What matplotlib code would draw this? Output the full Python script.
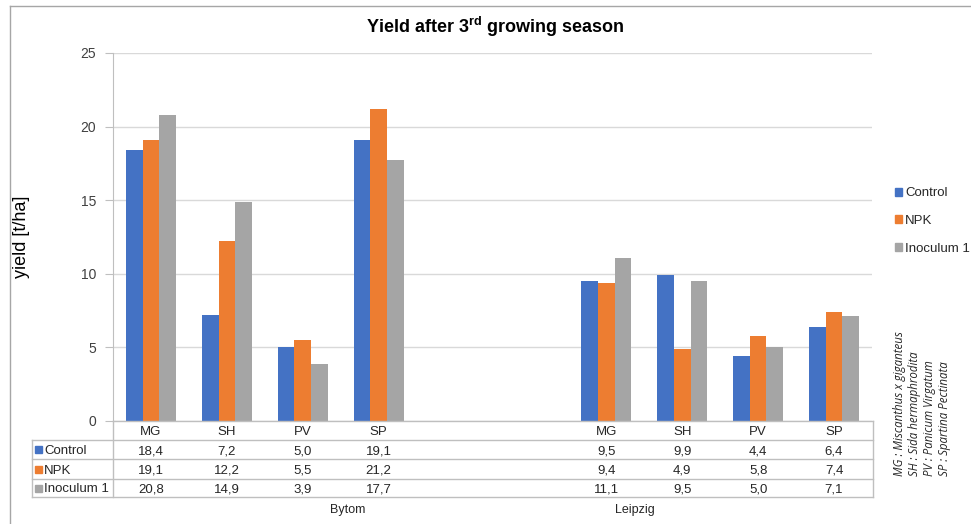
import matplotlib
matplotlib.use('Agg')
from matplotlib import pyplot as plt
from matplotlib.transforms import blended_transform_factory
from matplotlib.patches import Rectangle
from matplotlib.lines import Line2D

# data
species = ['MG', 'SH', 'PV', 'SP']
sites = ['Bytom', 'Leipzig']
series = ['Control', 'NPK', 'Inoculum 1']
colors = ['#4472C4', '#ED7D31', '#A5A5A5']

control_bytom = [18.4, 7.2, 5.0, 19.1]
npk_bytom = [19.1, 12.2, 5.5, 21.2]
inoc_bytom = [20.8, 14.9, 3.9, 17.7]
control_leipzig = [9.5, 9.9, 4.4, 6.4]
npk_leipzig = [9.4, 4.9, 5.8, 7.4]
inoc_leipzig = [11.1, 9.5, 5.0, 7.1]

yticks = [0, 5, 10, 15, 20, 25]

W, H = 971, 524
fig = plt.figure(figsize=(W / 100, H / 100), dpi=100)
plt.rcParams['font.family'] = ['Liberation Sans', 'DejaVu Sans']


def fy(py):
    return 1 - py / H


def fx(px):
    return px / W


ax = fig.add_axes([fx(113), fy(421), fx(872) - fx(113), fy(53) - fy(421)])

# 10 slots on the x axis, two empty between the sites
pos = {'Bytom': [0, 1, 2, 3], 'Leipzig': [6, 7, 8, 9]}
vals = {'Bytom': [control_bytom, npk_bytom, inoc_bytom],
        'Leipzig': [control_leipzig, npk_leipzig, inoc_leipzig]}

bw = 0.22
for site in sites:
    for i, (name, col) in enumerate(zip(series, colors)):
        xs = [p + (i - 1) * bw for p in pos[site]]
        ax.bar(xs, vals[site][i], width=bw, color=col, zorder=3)

ax.set_xlim(-0.5, 9.5)
ax.set_ylim(0, 25)
ax.set_yticks(yticks)
ax.set_yticklabels([str(t) for t in yticks], fontsize=10, color='#404040')
ax.tick_params(axis='y', length=6, color='#BFBFBF', pad=6)
ax.set_xticks([])
ax.grid(axis='y', color='#D9D9D9', linewidth=1, zorder=0)
for s in ['top', 'right', 'bottom']:
    ax.spines[s].set_visible(False)
ax.spines['left'].set_color('#BFBFBF')

fig.text(fx(22), fy(237), 'yield [t/ha]', rotation=90, fontsize=13,
         ha='center', va='center')

fig.text(fx(495), fy(27), 'Yield after 3$^{\\mathregular{rd}}$ growing season',
         fontsize=13, fontweight='bold', ha='center', va='center')

# outer frame
fig.add_artist(Line2D([fx(9.5), 1], [fy(6), fy(6)], color='#A6A6A6', lw=1))
fig.add_artist(Line2D([fx(9.5), fx(9.5)], [fy(6), 0], color='#A6A6A6', lw=1))

# data table below the plot
tr = blended_transform_factory(ax.transData, fig.transFigure)
grid_c = '#BFBFBF'
row_y = [421, 440, 459, 479, 497]
for k, yy in enumerate(row_y):
    x0 = 113 if k == 0 else 32
    fig.add_artist(Line2D([fx(x0), fx(873)], [fy(yy), fy(yy)], color=grid_c, lw=1))
fig.add_artist(Line2D([fx(32), fx(32)], [fy(440), fy(497)], color=grid_c, lw=1))
fig.add_artist(Line2D([fx(113), fx(113)], [fy(421), fy(497)], color=grid_c, lw=1))
fig.add_artist(Line2D([fx(873), fx(873)], [fy(421), fy(497)], color=grid_c, lw=1))

fs = 9.5
for site in sites:
    for j, p in enumerate(pos[site]):
        fig.text(p, fy(430.5), species[j], transform=tr, ha='center',
                 va='center_baseline', fontsize=fs, color='#262626')
        for i in range(3):
            yc = (row_y[i + 1] + row_y[i + 2]) / 2
            fig.text(p, fy(yc), f'{vals[site][i][j]:.1f}'.replace('.', ','),
                     transform=tr, ha='center', va='center_baseline',
                     fontsize=fs, color='#262626')

for i, (name, col) in enumerate(zip(series, colors)):
    yc = (row_y[i + 1] + row_y[i + 2]) / 2
    fig.add_artist(Rectangle((fx(35), fy(yc + 3.5)), fx(7), fy(0) - fy(7),
                             color=col, transform=fig.transFigure))
    fig.text(fx(44), fy(yc), name, ha='left', va='center_baseline',
             fontsize=fs, color='#262626')

fig.text(fx(348), fy(509), 'Bytom', ha='center', va='center_baseline',
         fontsize=9, color='#262626')
fig.text(fx(635), fy(509), 'Leipzig', ha='center', va='center_baseline',
         fontsize=9, color='#262626')

# legend
for i, (name, col) in enumerate(zip(series, colors)):
    yc = [192, 219, 247][i]
    fig.add_artist(Rectangle((fx(895), fy(yc + 3.5)), fx(7), fy(0) - fy(7),
                             color=col, transform=fig.transFigure))
    fig.text(fx(905), fy(yc), name, ha='left', va='center_baseline',
             fontsize=9.5, color='#262626')

# species note
note = ('MG : Miscanthus x giganteus\n'
        'SH : Sida hermaphrodita\n'
        'PV : Panicum Virgatum\n'
        'SP : Spartina Pectinata')
fig.text(fx(922), fy(476), note, rotation=90, ha='center', va='bottom',
         multialignment='left', fontsize=8.3, style='italic',
         family=['Open Sans', 'DejaVu Sans'], color='#262626',
         linespacing=1.2)

fig.savefig('out.png', dpi=100)
